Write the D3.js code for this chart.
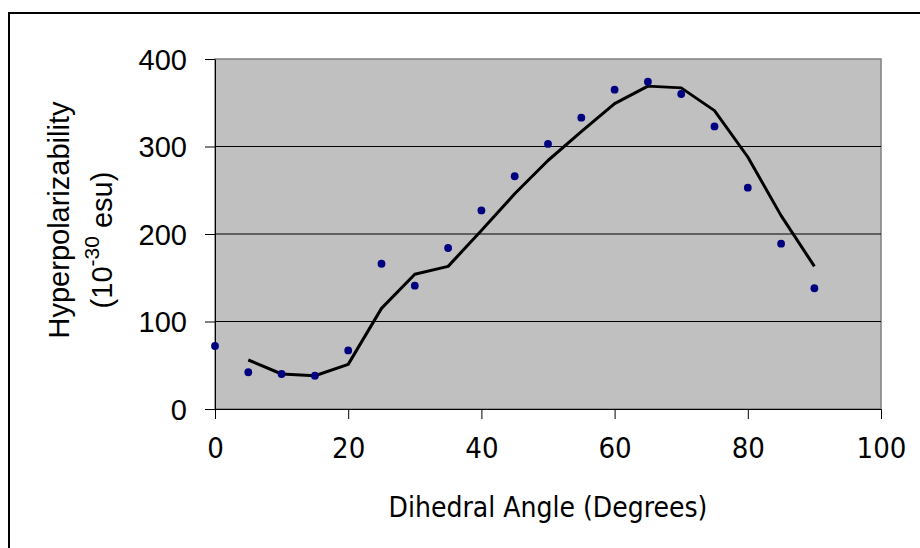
<!DOCTYPE html>
<html>
<head>
<meta charset="utf-8">
<script src="https://cdn.jsdelivr.net/npm/d3@7"></script>
<style>
  body { margin: 0; background: #fff; }
  .axis path, .axis line { stroke: #000; }
  .ytick text { font-family: "Liberation Sans", Arial, sans-serif; font-size: 29px; fill: #000; }
  .xtick text { font-family: "DejaVu Sans Condensed", "DejaVu Sans", sans-serif; font-stretch: condensed; font-size: 29px; fill: #000; }
</style>
</head>
<body>
<svg id="chart" width="920" height="548"></svg>
<script>
// dihedral angle (deg) and measured hyperpolarizability (1e-30 esu)
const angles = [0, 5, 10, 15, 20, 25, 30, 35, 40, 45, 50, 55, 60, 65, 70, 75, 80, 85, 90];
const beta = [72, 42, 40, 38, 67, 166, 141, 184, 227, 266, 303, 333, 365, 374, 360, 323, 253, 189, 138];

// trend line as drawn (starts at 5 deg)
const trendAngles = [5, 10, 15, 20, 25, 30, 35, 40, 45, 50, 55, 60, 65, 70, 75, 80, 85, 90];
const trendBeta = [56, 40, 38, 51, 115, 154, 163, 204, 246, 284, 317, 349, 369, 367, 341, 288, 221, 163];

const xTicks = [0, 20, 40, 60, 80, 100];
const yTicks = [0, 100, 200, 300, 400];

const svg = d3.select('#chart');
const plot = { left: 215, right: 881, top: 59, bottom: 409 };

const x = d3.scaleLinear().domain([0, 100]).range([plot.left, plot.right]);
const y = d3.scaleLinear().domain([0, 400]).range([plot.bottom, plot.top]);

// outer chart frame
svg.append('rect')
    .attr('x', 9).attr('y', 13)
    .attr('width', 930).attr('height', 560)
    .attr('fill', 'none')
    .attr('stroke', '#000')
    .attr('stroke-width', 2);

// plot area
svg.append('rect')
    .attr('x', plot.left).attr('y', plot.top)
    .attr('width', plot.right - plot.left)
    .attr('height', plot.bottom - plot.top)
    .attr('fill', '#c0c0c0')
    .attr('stroke', '#808080')
    .attr('stroke-width', 1.5);

// gridlines
svg.append('g')
  .selectAll('line')
  .data(yTicks.filter((d) => d > 0 && d < 400))
  .join('line')
    .attr('x1', plot.left).attr('x2', plot.right)
    .attr('y1', (d) => y(d)).attr('y2', (d) => y(d))
    .attr('stroke', '#000')
    .attr('stroke-width', 1);

svg.append('g')
    .attr('class', 'axis ytick')
    .attr('transform', `translate(${plot.left}, 0)`)
    .call(d3.axisLeft(y).tickValues(yTicks).tickSize(10).tickPadding(18).tickSizeOuter(0))
    .call((g) => g.selectAll('text').attr('dy', '0.36em'));

svg.append('g')
    .attr('class', 'axis xtick')
    .attr('transform', `translate(0, ${plot.bottom})`)
    .call(d3.axisBottom(x).tickValues(xTicks).tickSize(10).tickPadding(24).tickSizeOuter(0))
    .call((g) => g.selectAll('text').attr('dy', '0.5em'));

// trend line
const line = d3.line()
    .x((d, i) => x(trendAngles[i]))
    .y((d) => y(d));

svg.append('path')
    .datum(trendBeta)
    .attr('d', line)
    .attr('fill', 'none')
    .attr('stroke', '#000')
    .attr('stroke-width', 3)
    .attr('stroke-linejoin', 'round');

// measured points
svg.append('g')
  .selectAll('circle')
  .data(beta)
  .join('circle')
    .attr('cx', (d, i) => x(angles[i]))
    .attr('cy', (d) => y(d))
    .attr('r', 3.9)
    .attr('fill', '#000080');

// axis titles
svg.append('text')
    .attr('x', (plot.left + plot.right) / 2)
    .attr('y', 517)
    .attr('text-anchor', 'middle')
    .style('font-family', '"DejaVu Sans Condensed", "DejaVu Sans", sans-serif')
    .style('font-stretch', 'condensed')
    .style('font-size', '28px')
    .text('Dihedral Angle (Degrees)');

const yTitle = svg.append('g')
    .attr('transform', 'rotate(-90)')
    .style('font-family', '"Liberation Sans", Arial, sans-serif')
    .style('font-size', '29px')
    .attr('text-anchor', 'middle');

yTitle.append('text')
    .attr('x', -220).attr('y', 69)
    .text('Hyperpolarizability');

const unit = yTitle.append('text')
    .attr('x', -240).attr('y', 112);
unit.append('tspan').text('(10');
unit.append('tspan').attr('dy', -13).style('font-size', '21px').text('-30');
unit.append('tspan').attr('dy', 13).text(' esu)');
</script>
</body>
</html>
